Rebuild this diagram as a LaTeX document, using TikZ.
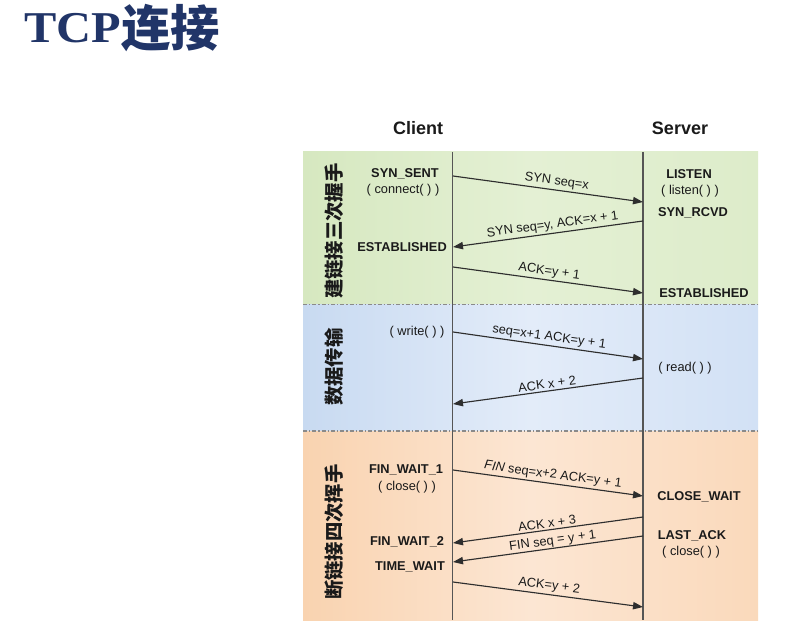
\documentclass[tikz,border=0pt]{standalone}
\usepackage{fontspec}
\setmainfont{Liberation Sans}
\newfontfamily\titleserif{Liberation Serif}
\newfontfamily\cjk{Noto Sans CJK SC}
\usetikzlibrary{arrows.meta}
\definecolor{titleblue}{HTML}{213568}
\definecolor{lifeg}{HTML}{555555}
\definecolor{arrowc}{HTML}{2E2E2E}
\definecolor{txt}{HTML}{1A1A1A}
\definecolor{sepc}{HTML}{8A8A8A}
\definecolor{gL}{HTML}{D6E8C0}
\definecolor{gM}{HTML}{E4F0D4}
\definecolor{gR}{HTML}{DDECCA}
\definecolor{bL}{HTML}{C8DAF1}
\definecolor{bM}{HTML}{E3ECF9}
\definecolor{bR}{HTML}{D2E1F5}
\definecolor{oL}{HTML}{F9D3B0}
\definecolor{oM}{HTML}{FCE6D3}
\definecolor{oR}{HTML}{FAD9BB}
\begin{document}
\begin{tikzpicture}[x=0.75pt,y=-0.75pt,
  lifeline/.style={draw=lifeg, line width=0.9pt},
  msg/.style={draw=arrowc, line width=0.85pt, -{Triangle[length=7.5pt,width=5.5pt]}},
  msglab/.style={font=\fontsize{9.6}{11}\selectfont, text=txt, inner sep=1.5pt, above, sloped, midway},
  statelab/.style={font=\bfseries\fontsize{9.6}{11}\selectfont, text=txt, inner sep=0pt},
  calllab/.style={font=\fontsize{9.6}{11}\selectfont, text=txt, inner sep=0pt},
  phaselab/.style={font=\cjk\bfseries\fontsize{14.5}{15}\selectfont, text=txt, rotate=90, inner sep=0pt},
  headlab/.style={font=\bfseries\fontsize{13.5}{15}\selectfont, text=txt, inner sep=0pt},
  sepline/.style={draw=sepc, line width=1pt, dash pattern=on 3pt off 1.5pt on 1pt off 1.5pt}
]
\useasboundingbox (0,0) rectangle (798,634);
\fill[white] (0,0) rectangle (798,634);

% title
\node[anchor=base west, inner sep=0pt, text=titleblue] (title) at (24,43)
  {\titleserif\bfseries\fontsize{33}{38}\selectfont\scalebox{1.1}[1]{TCP}\raisebox{-3pt}{\cjk\bfseries\fontsize{37}{40}\selectfont 连接}};

% bands
\shade[left color=gL, right color=gR, middle color=gM] (303,152) rectangle (758,304.5);
\shade[left color=bL, right color=bR, middle color=bM] (303,304.5) rectangle (758,431);
\shade[left color=oL, right color=oR, middle color=oM] (303,431) rectangle (758,620);
\draw[sepline] (303,304.5) -- (758,304.5);
\draw[sepline] (303,431) -- (758,431);

% headers
\node[headlab] (client) at (418,128) {Client};
\node[headlab] (server) at (680,128) {Server};

% lifelines
\coordinate (ctop) at (452.5,152);
\coordinate (cbot) at (452.5,620);
\coordinate (stop) at (643,152);
\coordinate (sbot) at (643,620);
\draw[lifeline] (ctop) -- (cbot);
\draw[lifeline] (stop) -- (sbot);

% phase labels
\node[phaselab] (p1) at (334,231) {建链接三次握手};
\node[phaselab] (p2) at (334,367) {数据传输};
\node[phaselab] (p3) at (334,532) {断链接四次挥手};

% client states
\node[statelab] (synsent) at (405,174) {SYN\_SENT};
\node[calllab] (connect) at (403,190) {( connect( ) )};
\node[statelab, anchor=east] (cest) at (447,247) {ESTABLISHED};
\node[calllab] (write) at (417,332) {( write( ) )};
\node[statelab] (fw1) at (406,470) {FIN\_WAIT\_1};
\node[calllab] (cclose) at (407,487) {( close( ) )};
\node[statelab] (fw2) at (407,542) {FIN\_WAIT\_2};
\node[statelab] (tw) at (410,567) {TIME\_WAIT};

% server states
\node[statelab] (listen) at (689,174) {LISTEN};
\node[calllab] (listenc) at (690,191) {( listen( ) )};
\node[statelab] (synrcvd) at (693,213) {SYN\_RCVD};
\node[statelab] (sest) at (704,293) {ESTABLISHED};
\node[calllab] (read) at (685,368) {( read( ) )};
\node[statelab] (cw) at (699,497) {CLOSE\_WAIT};
\node[statelab] (lastack) at (692,536) {LAST\_ACK};
\node[calllab] (sclose) at (691,552) {( close( ) )};

% message end points
\coordinate (a1) at (453,176); \coordinate (b1) at (643,202);
\coordinate (a2) at (643,221); \coordinate (b2) at (453,247);
\coordinate (a3) at (453,267); \coordinate (b3) at (643,293);
\coordinate (a4) at (453,332); \coordinate (b4) at (643,359);
\coordinate (a5) at (643,378); \coordinate (b5) at (453,404);
\coordinate (a6) at (453,470); \coordinate (b6) at (643,496);
\coordinate (a7) at (643,517); \coordinate (b7) at (453,543);
\coordinate (a8) at (643,536); \coordinate (b8) at (453,562);
\coordinate (a9) at (453,582); \coordinate (b9) at (643,607);

\draw[msg] (a1) -- node[msglab, pos=0.54] {SYN seq=x} (b1);
\draw[msg] (a2) -- node[msglab, pos=0.47] {SYN seq=y, ACK=x + 1} (b2);
\draw[msg] (a3) -- node[msglab, pos=0.5] {ACK=y + 1} (b3);
\draw[msg] (a4) -- node[msglab, pos=0.5] {seq=x+1 ACK=y + 1} (b4);
\draw[msg] (a5) -- node[msglab, pos=0.5] {ACK x + 2} (b5);
\draw[msg] (a6) -- node[msglab, pos=0.52] {\textit{FIN} seq=x+2 ACK=y + 1} (b6);
\draw[msg] (a7) -- node[msglab, pos=0.5, inner sep=1.2pt] {ACK x + 3} (b7);
\draw[msg] (a8) -- node[msglab, pos=0.47, inner sep=0.5pt] {FIN seq = y + 1} (b8);
\draw[msg] (a9) -- node[msglab, pos=0.5] {ACK=y + 2} (b9);
\end{tikzpicture}
\end{document}
